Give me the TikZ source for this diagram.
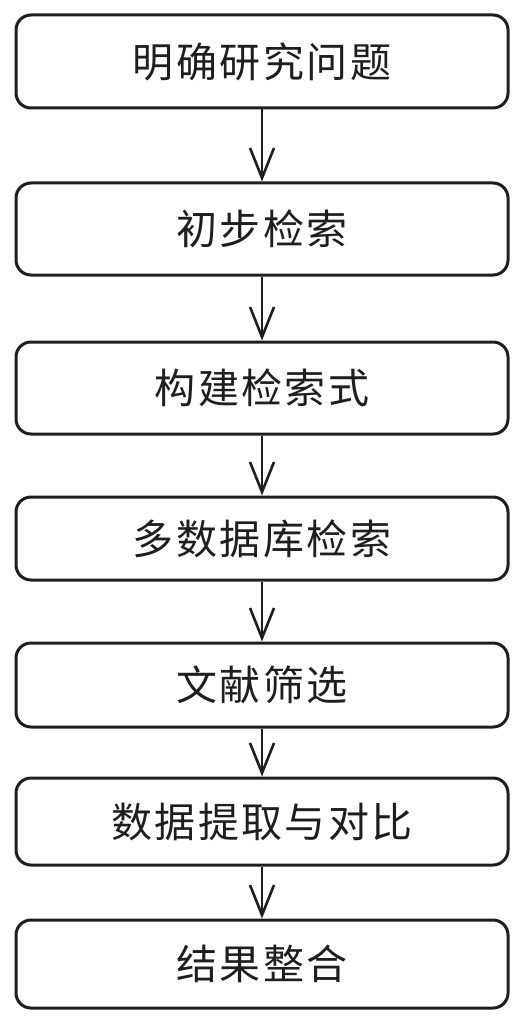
\documentclass[tikz,border=0pt]{standalone}
\usepackage{fontspec}
\usepackage{xcolor}
\usepackage{tikz}
\usetikzlibrary{shapes,arrows,arrows.meta}
\newfontfamily\cjk[LetterSpace=6]{Noto Sans CJK SC}
\definecolor{ink}{HTML}{1E1E1E}

\begin{document}
\begin{tikzpicture}[x=1pt, y=-1pt,
	stepbox/.style={font=\cjk\fontsize{41}{41}\selectfont, draw=ink, text=ink, line width=3, rounded corners=15, minimum width=492, minimum height=88, inner sep=0, align=center},
	flow/.style={draw=ink, line width=2.6, -{Straight Barb[length=30, width=24, line width=2.6]}}
]
\useasboundingbox (0,0) rectangle (530,1024);
%steps
\node[stepbox, minimum height=93] (s1) at (262,61.5) {明确研究问题};
\node[stepbox, minimum height=92] (s2) at (262,229) {初步检索};
\node[stepbox, minimum height=92] (s3) at (262,388) {构建检索式};
\node[stepbox, minimum height=83] (s4) at (262,538.5) {多数据库检索};
\node[stepbox, minimum height=84] (s5) at (262,685) {文献筛选};
\node[stepbox, minimum height=87] (s6) at (262,821.5) {数据提取与对比};
\node[stepbox, minimum height=88] (s7) at (262,964) {结果整合};
\draw [flow] (s1) -- (s2);
\draw [flow] (s2) -- (s3);
\draw [flow] (s3) -- (s4);
\draw [flow] (s4) -- (s5);
\draw [flow] (s5) -- (s6);
\draw [flow] (s6) -- (s7);
\end{tikzpicture}
\end{document}
